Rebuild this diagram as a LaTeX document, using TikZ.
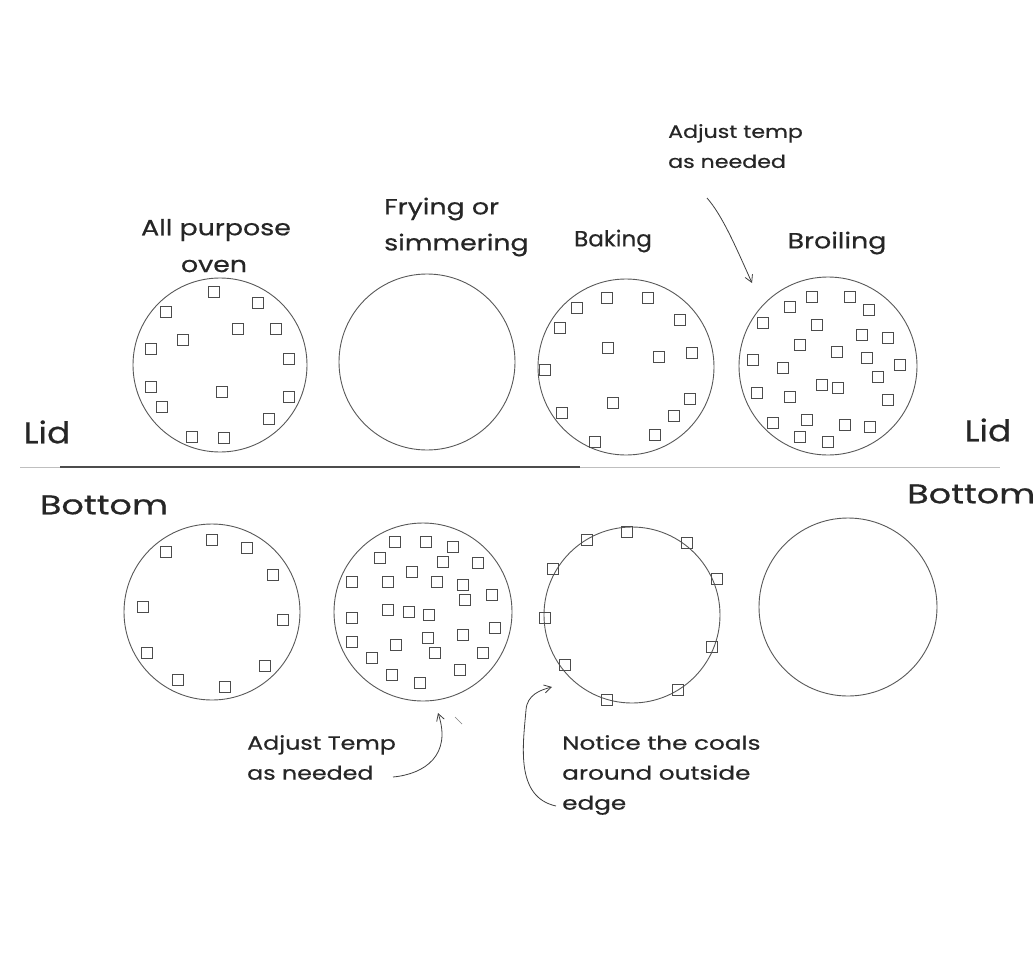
\documentclass[tikz,border=0pt]{standalone}
\usepackage{fontspec}
\usepackage{graphicx}
\setmainfont{Poppins}[FakeBold=0.5]
\usetikzlibrary{arrows.meta}
\newcommand{\widetext}[2][1.22]{\scalebox{#1}[1]{#2}}
\begin{document}
\begin{tikzpicture}[x=1pt,y=-1pt,
  ovenlid/.style={circle,draw=black!65,line width=0.9pt,inner sep=0pt},
  coal/.style={rectangle,draw=black!70,line width=0.8pt,minimum size=11pt,inner sep=0pt},
  lbl/.style={text=black!85,font=\fontsize{22}{26}\selectfont,inner sep=0pt},
  note/.style={text=black!85,font=\fontsize{19}{30}\selectfont,inner sep=0pt,align=left},
  side/.style={text=black!85,inner sep=0pt},
  pointer/.style={draw=black!75,line width=0.8pt,-{Straight Barb[length=7pt,width=8pt]}}]
\useasboundingbox (0,0) rectangle (1034,972);
\fill[white] (0,0) rectangle (1034,972);

% lid circles
\node[ovenlid,minimum size=174pt] (L1) at (220,365) {};
\node[ovenlid,minimum size=176pt] (L2) at (427,362) {};
\node[ovenlid,minimum size=176pt] (L3) at (626,367) {};
\node[ovenlid,minimum size=178pt] (L4) at (828,366) {};
% bottom circles
\node[ovenlid,minimum size=176pt] (B1) at (212,612) {};
\node[ovenlid,minimum size=178pt] (B2) at (423,612) {};
\node[ovenlid,minimum size=176pt] (B3) at (632,615) {};
\node[ovenlid,minimum size=178pt] (B4) at (848,607) {};

% coals
\foreach \p [count=\i] in {(214,292),(258,303),(166,312),(238,329),(276,329),(183,340),(151,349),(289,359),(151,387),(222,392),(289,397),(162,407),(269,419),(192,437),(224,438)}
  \node[coal] (a\i) at \p {};
\foreach \p [count=\i] in {(607,298),(648,298),(577,308),(680,320),(560,328),(608,348),(659,357),(692,353),(545,370),(613,403),(690,399),(562,413),(674,416),(595,442),(655,435)}
  \node[coal] (c\i) at \p {};
\foreach \p [count=\i] in {(812,297),(850,297),(790,307),(869,310),(763,323),(817,325),(862,335),(888,338),(800,345),(837,352),(753,360),(867,358),(900,365),(783,368),(878,377),(822,385),(838,388),(757,393),(790,397),(888,400),(773,423),(807,420),(845,425),(870,427),(800,437),(828,442)}
  \node[coal] (d\i) at \p {};
\foreach \p [count=\i] in {(166,552),(212,540),(247,548),(273,575),(143,607),(283,620),(147,653),(265,666),(178,680),(225,687)}
  \node[coal] (e\i) at \p {};
\foreach \p [count=\i] in {(395,542),(426,542),(453,547),(380,558),(443,562),(478,563),(412,572),(352,582),(388,582),(437,582),(463,585),(465,600),(492,595),(388,610),(409,612),(429,615),(352,618),(495,628),(463,635),(352,642),(396,645),(428,638),(435,653),(483,653),(372,658),(392,675),(460,670),(420,683)}
  \node[coal] (f\i) at \p {};
\foreach \p [count=\i] in {(587,540),(627,532),(687,543),(553,569),(717,579),(545,618),(712,647),(565,665),(678,690),(607,700)}
  \node[coal] (g\i) at \p {};

% divider
\coordinate (hl) at (20,467);
\coordinate (hr) at (1000,467);
\coordinate (hm1) at (60,467);
\coordinate (hm2) at (580,467);
\draw[black!25,line width=1pt] (hl) -- (hr);
\draw[black!70,line width=1.4pt] (hm1) -- (hm2);

% labels
\node[lbl] (t1a) at (216,230) {\widetext{All purpose}};
\node[lbl] (t1b) at (214,266) {\widetext{oven}};
\node[lbl,anchor=west] (t2a) at (384,209) {\widetext{Frying or}};
\node[lbl,anchor=west] (t2b) at (384,245) {\widetext{simmering}};
\node[lbl] (t3) at (613,241) {\widetext[1.05]{Baking}};
\node[lbl] (t4) at (837,243) {\widetext{Broiling}};
\node[side,font=\fontsize{30}{34}\selectfont] (lidl) at (47,432) {\widetext[1.15]{Lid}};
\node[side,font=\fontsize{30}{34}\selectfont] (lidr) at (988,430) {\widetext[1.15]{Lid}};
\node[side,font=\fontsize{27}{30}\selectfont] (botl) at (104,505) {\widetext[1.3]{Bottom}};
\node[side,font=\fontsize{27}{30}\selectfont,anchor=west] (botr) at (907,494) {\widetext[1.3]{Bottom}};

\node[note,anchor=north west,font=\fontsize{18}{30}\selectfont] (n1) at (668,124) {\widetext[1.23]{Adjust temp}\\\widetext[1.23]{as needed}};
\node[note,anchor=north west] (n2) at (247,735) {\widetext[1.25]{Adjust Temp}\\\widetext[1.25]{as needed}};
\node[note,anchor=north west] (n3) at (562,735) {\widetext[1.3]{Notice the coals}\\\widetext[1.3]{around outside}\\\widetext[1.3]{edge}};

% pointers
\coordinate (p1s) at (707,198);
\coordinate (p1e) at (752,283);
\draw[pointer] (p1s) .. controls (722,215) and (735,245) .. (p1e);
\coordinate (p2s) at (393,777);
\coordinate (p2e) at (438,713);
\draw[pointer] (p2s) .. controls (425,774) and (452,755) .. (p2e);
\coordinate (p2t) at (455,717);
\coordinate (p2u) at (462,724);
\draw[black!50,line width=0.7pt] (p2t) -- (p2u);
\coordinate (p3s) at (556,806);
\coordinate (p3e) at (552,687);
\draw[pointer] (p3s) .. controls (515,797) and (523,745) .. (526,710) .. controls (527,695) and (540,690) .. (p3e);
\end{tikzpicture}
\end{document}
